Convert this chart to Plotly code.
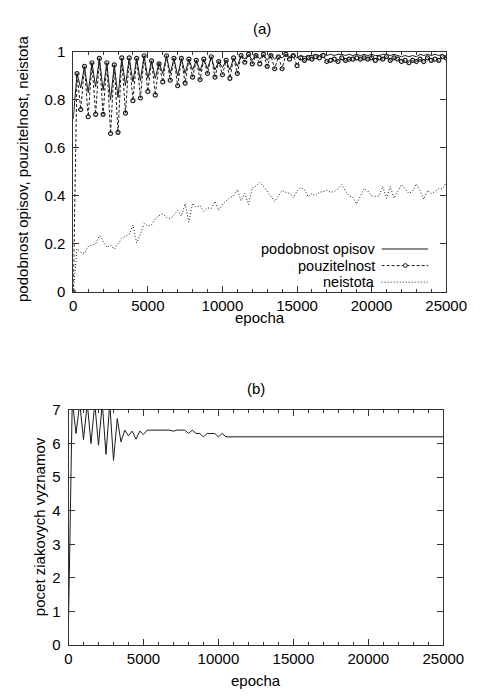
import plotly.graph_objects as go

# epochs sampled every 250
epocha = list(range(0, 25001, 250))

podobnost = [
    0.72, 0.91, 0.85, 0.94, 0.83, 0.955, 0.855, 0.973, 0.84, 0.955,
    0.80, 0.946, 0.81, 0.975, 0.86, 0.975, 0.875, 0.973, 0.88, 0.984,
    0.89, 0.963, 0.89, 0.955, 0.91, 0.984, 0.91, 0.973, 0.90, 0.973,
    0.91, 0.97, 0.925, 0.965, 0.92, 0.97, 0.93, 0.98, 0.925, 0.96,
    0.935, 0.965, 0.925, 0.975, 0.94, 0.985, 0.97, 0.99, 0.965, 0.99,
    0.97, 0.99, 0.965, 0.99, 0.97, 0.985, 0.975, 0.99, 0.98, 0.99,
    0.975, 0.985, 0.98, 0.985, 0.985, 0.99, 0.985, 0.995, 0.985, 0.99,
    0.985, 0.99, 0.99, 0.985, 0.99, 0.985, 0.99, 0.985, 0.99, 0.985,
    0.99, 0.985, 0.985, 0.99, 0.99, 0.985, 0.99, 0.985, 0.98, 0.985,
    0.98, 0.985, 0.98, 0.99, 0.985, 0.99, 0.985, 0.99, 0.985, 0.99,
    0.98,
]

pouzitelnost = [
    0.0, 0.91, 0.76, 0.94, 0.73, 0.955, 0.74, 0.973, 0.74, 0.955,
    0.66, 0.946, 0.665, 0.975, 0.745, 0.975, 0.797, 0.973, 0.808, 0.984,
    0.835, 0.963, 0.82, 0.95, 0.875, 0.984, 0.882, 0.973, 0.859, 0.973,
    0.87, 0.97, 0.895, 0.965, 0.885, 0.97, 0.91, 0.98, 0.895, 0.96,
    0.905, 0.965, 0.89, 0.975, 0.91, 0.985, 0.957, 0.99, 0.95, 0.985,
    0.95, 0.99, 0.94, 0.985, 0.93, 0.98, 0.93, 0.99, 0.97, 0.985,
    0.943, 0.975, 0.965, 0.975, 0.97, 0.98, 0.975, 0.985, 0.96, 0.965,
    0.97, 0.96, 0.975, 0.965, 0.97, 0.97, 0.975, 0.97, 0.975, 0.97,
    0.975, 0.965, 0.975, 0.97, 0.98, 0.965, 0.975, 0.97, 0.96, 0.965,
    0.955, 0.965, 0.96, 0.97, 0.96, 0.975, 0.965, 0.97, 0.965, 0.98,
    0.975,
]

neistota = [
    0.0, 0.18, 0.165, 0.16, 0.19, 0.195, 0.20, 0.235, 0.21, 0.185,
    0.195, 0.178, 0.20, 0.222, 0.232, 0.24, 0.278, 0.205, 0.24, 0.285,
    0.274, 0.28, 0.305, 0.318, 0.325, 0.31, 0.305, 0.32, 0.339, 0.315,
    0.369, 0.291, 0.369, 0.352, 0.36, 0.336, 0.35, 0.348, 0.377, 0.34,
    0.365, 0.38, 0.393, 0.40, 0.427, 0.38, 0.41, 0.363, 0.434, 0.44,
    0.458, 0.44, 0.42, 0.395, 0.377, 0.40, 0.423, 0.415, 0.41, 0.393,
    0.42, 0.436, 0.425, 0.396, 0.41, 0.40, 0.415, 0.418, 0.423, 0.415,
    0.418, 0.43, 0.447, 0.42, 0.40, 0.395, 0.366, 0.40, 0.431, 0.42,
    0.40, 0.398, 0.40, 0.44, 0.39, 0.44, 0.39, 0.42, 0.447, 0.43,
    0.41, 0.42, 0.45, 0.42, 0.386, 0.423, 0.41, 0.418, 0.43, 0.43,
    0.455,
]

pocet_vyznamov = [
    0.73, 7.3, 6.3, 7.2, 6.12, 7.2, 6.0, 7.2, 5.95, 7.2,
    5.68, 7.2, 5.5, 6.74, 6.05, 6.4, 6.23, 6.37, 6.13, 6.37,
    6.27, 6.4, 6.4, 6.4, 6.4, 6.4, 6.4, 6.4, 6.37, 6.4,
    6.4, 6.4, 6.3, 6.4, 6.3, 6.3, 6.2, 6.3, 6.3, 6.3,
    6.2, 6.3, 6.2, 6.2, 6.2, 6.2, 6.2, 6.2, 6.2, 6.2,
    6.2, 6.2, 6.2, 6.2, 6.2, 6.2, 6.2, 6.2, 6.2, 6.2,
    6.2, 6.2, 6.2, 6.2, 6.2, 6.2, 6.2, 6.2, 6.2, 6.2,
    6.2, 6.2, 6.2, 6.2, 6.2, 6.2, 6.2, 6.2, 6.2, 6.2,
    6.2, 6.2, 6.2, 6.2, 6.2, 6.2, 6.2, 6.2, 6.2, 6.2,
    6.2, 6.2, 6.2, 6.2, 6.2, 6.2, 6.2, 6.2, 6.2, 6.2,
    6.2,
]

W, H = 489, 696
font_rodina = 'Arial, Liberation Sans, sans-serif'
cierna = '#1a1a1a'


def px_x(p):
    return p / W


def px_y(p):
    return 1 - p / H


fig = go.Figure()

fig.add_trace(go.Scatter(x=epocha, y=podobnost, mode='lines', name='podobnost opisov',
                         line=dict(color=cierna, width=1), xaxis='x', yaxis='y'))
fig.add_trace(go.Scatter(x=epocha, y=pouzitelnost, mode='lines+markers', name='pouzitelnost',
                         line=dict(color=cierna, width=1, dash='3px,2px'),
                         marker=dict(symbol='circle-open', size=4, color=cierna, line=dict(width=1.2)),
                         xaxis='x', yaxis='y'))
fig.add_trace(go.Scatter(x=epocha, y=neistota, mode='lines', name='neistota',
                         line=dict(color=cierna, width=1, dash='1px,2px'), xaxis='x', yaxis='y'))
fig.add_trace(go.Scatter(x=epocha, y=pocet_vyznamov, mode='lines', name='pocet',
                         line=dict(color=cierna, width=1), xaxis='x2', yaxis='y2'))

os_spolocne = dict(
    showline=True, linecolor='#333', linewidth=1, mirror='ticks',
    ticks='inside', ticklen=6, tickcolor='#333', showgrid=False, zeroline=False,
    tickfont=dict(family=font_rodina, size=15, color='black'),
)

fig.update_layout(
    width=W, height=H,
    margin=dict(l=0, r=0, t=0, b=0),
    paper_bgcolor='white', plot_bgcolor='white',
    showlegend=False,
    font=dict(family=font_rodina, size=15, color='black'),
    xaxis=dict(domain=[px_x(73), px_x(466)], range=[0, 25000], dtick=5000, tickformat='d', anchor='y',
               minor=dict(dtick=1000, ticks='inside', ticklen=3, tickcolor='#333'), **os_spolocne),
    yaxis=dict(domain=[px_y(290), px_y(44)], range=[0, 1], dtick=0.2, anchor='x',
               ticklabelstandoff=4, **os_spolocne),
    xaxis2=dict(domain=[px_x(68), px_x(463)], range=[0, 25000], dtick=5000, tickformat='d', anchor='y2',
                minor=dict(dtick=1000, ticks='inside', ticklen=3, tickcolor='#333'), **os_spolocne),
    yaxis2=dict(domain=[px_y(652), px_y(411)], range=[0, 7], dtick=1, anchor='x2',
                ticklabelstandoff=4, **os_spolocne),
)

# nadpisy a popisy osi
popisy = [
    ('(a)', 272, 20, 0),
    ('epocha', 270, 316, 0),
    ('(b)', 266, 389, 0),
    ('epocha', 266, 688, 0),
    ('podobnost opisov, pouzitelnost, neistota', 20, 164, -90),
    ('pocet ziakovych vyznamov', 37, 531, -90),
]
for text, x, y, uhol in popisy:
    fig.add_annotation(text=text, x=px_x(x), y=px_y(y), xref='paper', yref='paper',
                       showarrow=False, textangle=uhol, xanchor='center', yanchor='middle',
                       font=dict(family=font_rodina, size=15, color='black'))

# legenda v style gnuplotu (text vpravo zarovnany, vzorka ciary napravo)
legenda = [('podobnost opisov', 'solid'), ('pouzitelnost', '3px,2px'), ('neistota', '1px,2px')]
for i, (text, styl) in enumerate(legenda):
    yy = 246 + i * 17
    fig.add_annotation(text=text, x=px_x(393), y=px_y(yy), xref='paper', yref='paper',
                       showarrow=False, xanchor='right', yanchor='middle',
                       font=dict(family=font_rodina, size=14.5, color='black'))
    fig.add_shape(type='line', xref='paper', yref='paper',
                  x0=px_x(398), x1=px_x(447), y0=px_y(yy), y1=px_y(yy),
                  line=dict(color=cierna, width=1, dash=styl))
    if text == 'pouzitelnost':
        fig.add_shape(type='circle', xref='paper', yref='paper',
                      x0=px_x(421), x1=px_x(425), y0=px_y(yy + 2), y1=px_y(yy - 2),
                      line=dict(color=cierna, width=1), fillcolor='white')

fig.write_html("out.html", config={'displayModeBar': False},
               post_script="document.body.style.margin='0';")
